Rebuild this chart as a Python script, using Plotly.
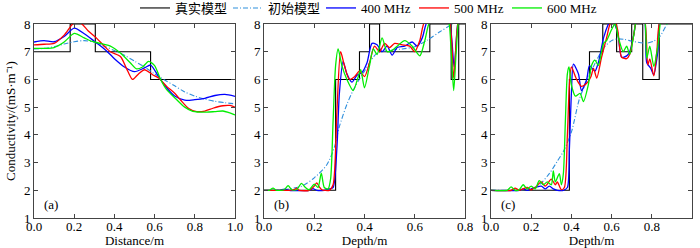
import plotly.graph_objects as go

# ---------------- Panel (a) ----------------
a_true_x = [0, 0.18, 0.305, 0.58, 1.0]
a_true_y = [7, 8, 7, 6, 6]

a_init_x = [0, 0.05, 0.1, 0.15, 0.2, 0.25, 0.3, 0.35, 0.4, 0.45, 0.5, 0.55, 0.6, 0.65, 0.7, 0.75, 0.8, 0.85, 0.9, 0.95, 1.0]
a_init_y = [7.1, 7.12, 7.18, 7.28, 7.36, 7.4, 7.34, 7.2, 7.04, 6.87, 6.66, 6.45, 6.2, 5.98, 5.77, 5.55, 5.4, 5.29, 5.21, 5.16, 5.12]

a_400_x = [0, 0.05, 0.1, 0.15, 0.2, 0.25, 0.3, 0.35, 0.4, 0.45, 0.5, 0.55, 0.58, 0.62, 0.66, 0.7, 0.75, 0.8, 0.85, 0.9, 0.95, 1.0]
a_400_y = [7.35, 7.4, 7.36, 7.55, 7.85, 7.65, 7.38, 7.1, 6.75, 6.45, 6.28, 6.42, 6.52, 6.1, 5.7, 5.4, 5.25, 5.27, 5.32, 5.42, 5.46, 5.39]

a_500_x = [0, 0.05, 0.1, 0.15, 0.2, 0.23, 0.27, 0.31, 0.35, 0.38, 0.43, 0.46, 0.49, 0.52, 0.55, 0.59, 0.62, 0.66, 0.7, 0.73, 0.77, 0.81, 0.85, 0.89, 0.94, 0.975, 1.0]
a_500_y = [7.25, 7.27, 7.3, 7.6, 8.05, 8.05, 7.75, 7.5, 7.2, 7.0, 6.83, 6.4, 6.0, 6.2, 6.35, 6.17, 6.05, 5.75, 5.5, 5.25, 4.95, 4.84, 4.86, 4.96, 5.05, 5.06, 5.0]

a_600_x = [0, 0.05, 0.1, 0.15, 0.2, 0.25, 0.29, 0.33, 0.38, 0.43, 0.48, 0.51, 0.54, 0.57, 0.6, 0.63, 0.66, 0.71, 0.75, 0.79, 0.86, 0.9, 0.94, 0.97, 1.0]
a_600_y = [7.12, 7.12, 7.15, 7.35, 7.66, 7.5, 7.37, 7.3, 7.2, 6.95, 6.59, 6.38, 6.45, 6.65, 6.5, 6.0, 5.63, 5.27, 5.0, 4.85, 4.82, 4.84, 4.86, 4.8, 4.72]

# ---------------- Panel (b) ----------------
b_true_x = [0, 0.285, 0.38, 0.42, 0.46, 0.66, 0.745, 0.775, 0.8]
b_true_y = [2, 6, 7, 8, 7, 8, 6, 8, 8]

b_init_x = [0, 0.05, 0.1, 0.15, 0.2, 0.25, 0.28, 0.3, 0.33, 0.36, 0.4, 0.45, 0.5, 0.55, 0.6, 0.65, 0.7, 0.75, 0.8]
b_init_y = [2.0, 2.01, 2.05, 2.15, 2.45, 2.92, 3.55, 4.3, 5.1, 5.7, 6.3, 6.95, 7.05, 7.1, 7.18, 7.42, 7.72, 8.0, 8.3]

b_400_x = [0, 0.06, 0.082, 0.1, 0.18, 0.195, 0.21, 0.24, 0.26, 0.275, 0.29, 0.3, 0.315, 0.33, 0.35, 0.37, 0.39, 0.41, 0.43, 0.45, 0.47, 0.49, 0.51, 0.53, 0.56, 0.59, 0.61, 0.63, 0.65, 0.7, 0.735, 0.757, 0.775, 0.8]
b_400_y = [2, 2, 2.04, 2.0, 2.0, 2.06, 2.0, 2.0, 2.05, 2.1, 3.5, 5.5, 6.65, 6.2, 5.9, 6.15, 6.25, 6.6, 7.3, 7.25, 7.0, 7.2, 6.88, 7.15, 7.2, 7.35, 7.2, 7.5, 8.1, 8.4, 8.2, 6.45, 8.2, 8.5]

b_500_x = [0, 0.05, 0.1, 0.12, 0.13, 0.14, 0.18, 0.2, 0.21, 0.22, 0.23, 0.26, 0.275, 0.29, 0.305, 0.32, 0.34, 0.36, 0.38, 0.4, 0.42, 0.44, 0.46, 0.48, 0.5, 0.52, 0.55, 0.58, 0.6, 0.62, 0.64, 0.7, 0.735, 0.755, 0.775, 0.8]
b_500_y = [2, 2, 2, 2.02, 2.08, 2.0, 2.0, 2.15, 2.27, 2.12, 2.02, 2.0, 2.2, 4.8, 7.0, 6.5, 6.0, 6.1, 6.3, 6.1, 6.6, 7.2, 7.0, 7.3, 7.15, 7.3, 7.25, 7.2, 7.0, 7.4, 8.1, 8.4, 8.2, 6.05, 8.2, 8.5]

b_600_x = [0, 0.02, 0.036, 0.05, 0.08, 0.096, 0.11, 0.13, 0.149, 0.165, 0.18, 0.2, 0.215, 0.228, 0.24, 0.255, 0.265, 0.275, 0.285, 0.295, 0.31, 0.33, 0.355, 0.375, 0.385, 0.4, 0.42, 0.435, 0.45, 0.47, 0.49, 0.51, 0.53, 0.56, 0.59, 0.62, 0.64, 0.66, 0.7, 0.73, 0.745, 0.755, 0.765, 0.78, 0.8]
b_600_y = [2, 2, 2.08, 2.0, 2.02, 2.17, 2.02, 2.02, 2.25, 2.1, 2.02, 2.22, 2.1, 2.62, 2.1, 2.05, 2.4, 4.5, 6.5, 7.1, 6.5, 6.0, 5.6, 6.1, 6.35, 5.7, 6.5, 7.1, 6.9, 7.5, 7.0, 7.05, 7.2, 7.4, 7.2, 6.85, 7.4, 8.1, 8.4, 8.3, 7.0, 5.6, 7.0, 8.4, 8.5]

# ---------------- Panel (c) ----------------
c_true_x = [0, 0.39, 0.49, 0.556, 0.625, 0.70, 0.755, 0.837, 1.0]
c_true_y = [2, 6, 7, 8, 7, 8, 6, 8, 8]

c_init_x = [0, 0.1, 0.15, 0.2, 0.24, 0.29, 0.33, 0.36, 0.4, 0.44, 0.48, 0.51, 0.56, 0.6, 0.625, 0.66, 0.708, 0.775, 0.81, 0.84, 0.874, 0.9, 1.0]
c_init_y = [2, 2, 2.01, 2.06, 2.2, 2.6, 3.05, 3.4, 4.1, 5.3, 6.0, 6.47, 7.13, 7.4, 7.46, 7.45, 7.37, 7.31, 7.38, 7.55, 7.97, 8.2, 8.8]

c_400_x = [0, 0.14, 0.16, 0.18, 0.22, 0.25, 0.27, 0.29, 0.31, 0.33, 0.36, 0.38, 0.39, 0.40, 0.41, 0.435, 0.45, 0.476, 0.49, 0.517, 0.534, 0.56, 0.584, 0.6, 0.63, 0.65, 0.675, 0.69, 0.71, 0.73, 0.76, 0.775, 0.795, 0.81, 0.83, 0.85, 1.0]
c_400_y = [2, 2, 2.05, 2.0, 2.1, 2.15, 2.05, 2.15, 2.05, 2.0, 2.0, 2.1, 3.5, 5.5, 6.55, 6.2, 5.6, 6.0, 6.5, 6.3, 6.6, 7.5, 8.0, 8.2, 7.7, 6.8, 6.85, 7.0, 7.6, 8.3, 8.3, 6.6, 6.4, 6.17, 7.0, 8.3, 8.5]

c_500_x = [0, 0.1, 0.12, 0.14, 0.18, 0.2, 0.22, 0.25, 0.27, 0.3, 0.32, 0.33, 0.35, 0.365, 0.38, 0.39, 0.40, 0.426, 0.45, 0.475, 0.497, 0.51, 0.526, 0.55, 0.575, 0.592, 0.61, 0.63, 0.65, 0.675, 0.69, 0.71, 0.73, 0.76, 0.78, 0.79, 0.81, 0.825, 0.85, 1.0]
c_500_y = [2, 2, 2.08, 2.0, 2.1, 2.02, 2.1, 2.3, 2.15, 2.4, 2.2, 2.3, 2.02, 2.1, 4.0, 5.8, 6.45, 6.0, 5.75, 5.85, 6.1, 6.4, 6.05, 6.8, 7.5, 8.0, 8.2, 7.8, 6.8, 6.75, 6.9, 7.6, 8.3, 8.3, 6.53, 6.74, 6.13, 7.0, 8.3, 8.5]

c_600_x = [0, 0.08, 0.1, 0.12, 0.14, 0.16, 0.18, 0.2, 0.22, 0.24, 0.26, 0.28, 0.3, 0.31, 0.32, 0.34, 0.35, 0.36, 0.37, 0.38, 0.388, 0.4, 0.42, 0.443, 0.46, 0.484, 0.5, 0.517, 0.534, 0.56, 0.575, 0.6, 0.617, 0.634, 0.658, 0.675, 0.69, 0.708, 0.73, 0.76, 0.775, 0.79, 0.81, 0.83, 0.85, 0.875, 0.9, 1.0]
c_600_y = [2, 2, 2.12, 2.0, 2.02, 2.2, 2.05, 2.15, 2.05, 2.35, 2.2, 2.3, 2.2, 2.7, 2.3, 2.6, 2.2, 2.6, 4.5, 6.2, 6.45, 5.8, 5.4, 5.5, 5.2, 5.8, 6.5, 6.7, 6.5, 7.3, 7.4, 7.8, 8.0, 7.5, 7.0, 7.2, 6.9, 7.5, 8.3, 8.3, 6.77, 7.2, 6.47, 7.2, 8.3, 8.0, 8.4, 8.5]

legend_names = ["真实模型", "初始模型", "400 MHz", "500 MHz", "600 MHz"]
x_titles = ["Distance/m", "Depth/m", "Depth/m"]
y_title = "Conductivity/(mS·m⁻¹)"
panel_labels = ["(a)", "(b)", "(c)"]
x_ranges = [[0, 1.0], [0, 0.8], [0, 1.0]]
x_tickvals = [[0, 0.2, 0.4, 0.6, 0.8, 1.0], [0, 0.2, 0.4, 0.6, 0.8], [0, 0.2, 0.4, 0.6, 0.8, 1.0]]
y_tickvals = [1, 2, 3, 4, 5, 6, 7, 8]

panels = [
    [(a_true_x, a_true_y), (a_init_x, a_init_y), (a_400_x, a_400_y), (a_500_x, a_500_y), (a_600_x, a_600_y)],
    [(b_true_x, b_true_y), (b_init_x, b_init_y), (b_400_x, b_400_y), (b_500_x, b_500_y), (b_600_x, b_600_y)],
    [(c_true_x, c_true_y), (c_init_x, c_init_y), (c_400_x, c_400_y), (c_500_x, c_500_y), (c_600_x, c_600_y)],
]

colors = ["#000000", "#2f8fdc", "#0000ff", "#ff0000", "#00ee00"]
SERIF = "Liberation Serif"
CJK = "Liberation Serif, Noto Sans CJK SC"

W, H = 700, 248
ML, MR, MT, MB = 34, 8, 24, 30
PW = W - ML - MR
PH = H - MT - MB
px_domains = [(34, 235), (264, 465), (491, 692)]
domains = [[(l - ML) / PW, (r - ML) / PW] for l, r in px_domains]

fig = go.Figure()
for p, series in enumerate(panels):
    xa = "x" if p == 0 else f"x{p+1}"
    ya = "y" if p == 0 else f"y{p+1}"
    for s, (xs, ys) in enumerate(series):
        if s == 0:
            line = dict(color=colors[s], width=1.1, shape="hv")
        elif s == 1:
            line = dict(color=colors[s], width=1.1, dash="5px,2px,1px,2px", shape="spline", smoothing=0.8)
        else:
            line = dict(color=colors[s], width=1.3, shape="spline", smoothing=0.7)
        fig.add_trace(go.Scatter(
            x=xs, y=ys, mode="lines", line=line, name=legend_names[s],
            showlegend=(p == 0), xaxis=xa, yaxis=ya, cliponaxis=True,
        ))

axis_common = dict(
    showgrid=False, zeroline=False, showline=True, linecolor="#444444", linewidth=1,
    mirror="ticks", ticks="inside", ticklen=4, tickcolor="#444444", tickwidth=1,
    tickfont=dict(family=SERIF, size=13, color="#000000"), automargin=False,
)

layout = dict(
    width=W, height=H, margin=dict(l=ML, r=MR, t=MT, b=MB, autoexpand=False),
    plot_bgcolor="white", paper_bgcolor="white",
    font=dict(family=SERIF, size=13, color="#000000"),
    legend=dict(
        orientation="h", xref="container", yref="paper", x=135 / W, y=1 + 31 / PH,
        xanchor="left", yanchor="top", font=dict(family=CJK, size=13),
        bgcolor="rgba(0,0,0,0)", borderwidth=0, tracegroupgap=0,
        entrywidth=48, entrywidthmode="pixels",
    ),
    annotations=[dict(
        text=y_title, textangle=-90, x=(10 - ML) / PW, y=0.5, xref="paper", yref="paper",
        xanchor="center", yanchor="middle", showarrow=False, font=dict(family=SERIF, size=13),
    )],
)
for p in range(3):
    k = "" if p == 0 else str(p + 1)
    layout[f"xaxis{k}"] = dict(
        axis_common, domain=domains[p], range=x_ranges[p], tickvals=x_tickvals[p],
        tickformat=".1f", anchor=f"y{k}", ticklabelstandoff=-4,
        title=dict(text=x_titles[p], standoff=0, font=dict(family=SERIF, size=13)),
    )
    layout[f"yaxis{k}"] = dict(axis_common, domain=[0, 1], range=[1, 8], tickvals=y_tickvals, anchor=f"x{k}")
    layout["annotations"].append(dict(
        text=panel_labels[p], x=0, y=1.47, xref=f"x{k}", yref=f"y{k}",
        xanchor="left", yanchor="middle", xshift=8, showarrow=False,
        font=dict(family=SERIF, size=13),
    ))

fig.update_layout(**layout)
fig.write_html(
    "out.html",
    config={"displayModeBar": False},
    post_script="document.body.style.margin='0';document.body.style.overflow='hidden';",
)
